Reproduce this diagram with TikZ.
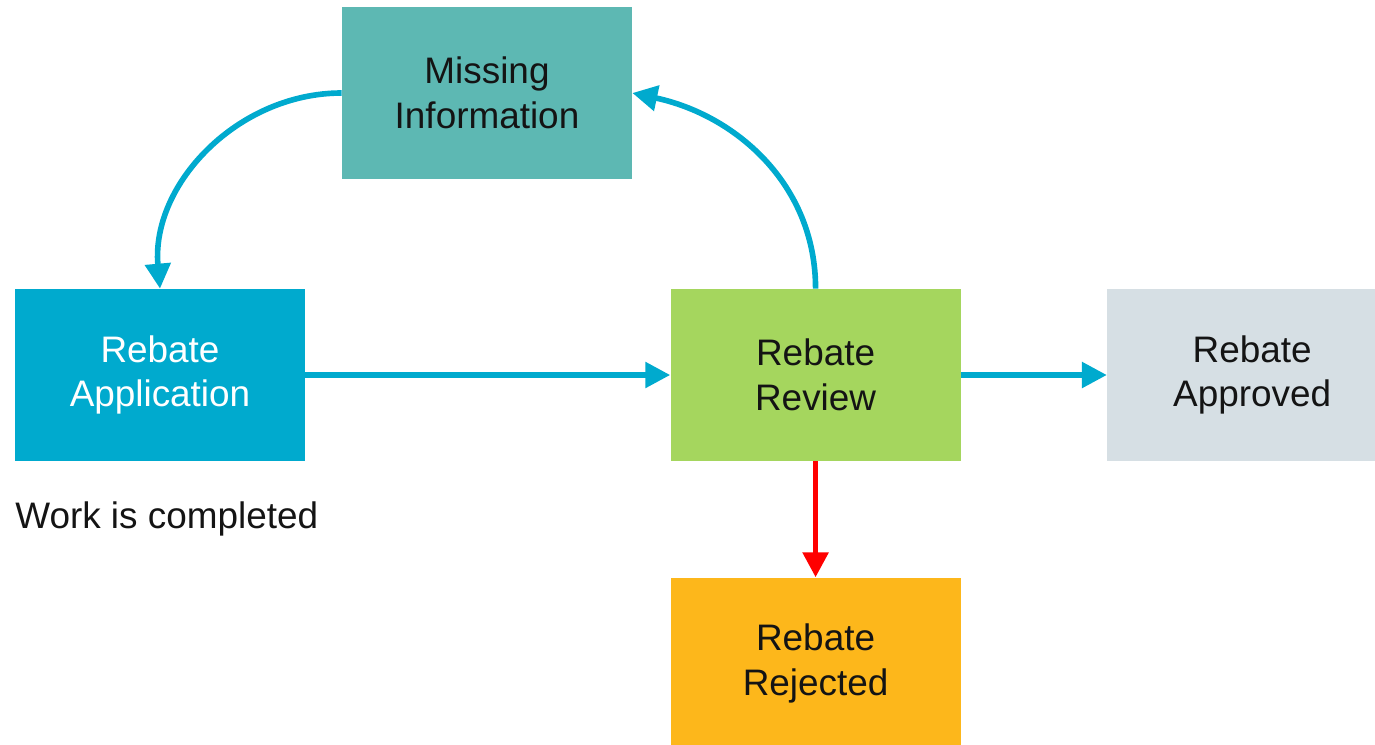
\documentclass[tikz,border=0pt]{standalone}
\usepackage{fontspec}
\setmainfont{Liberation Sans}
\usetikzlibrary{positioning, arrows.meta}

\definecolor{tealbox}{HTML}{5DB8B3}
\definecolor{bluebox}{HTML}{00AACE}
\definecolor{greenbox}{HTML}{A5D65E}
\definecolor{greybox}{HTML}{D6DFE4}
\definecolor{orangebox}{HTML}{FDB71B}
\definecolor{flowline}{HTML}{00AACE}
\definecolor{textdark}{HTML}{141414}

\tikzset{
  stage/.style={rectangle, minimum width=5.8cm, minimum height=3.44cm, inner sep=0pt,
    align=center, font=\fontsize{21}{25.5}\selectfont, text=textdark},
  flow/.style={line width=3.2pt, draw=flowline, -{Triangle[length=0.5cm, width=0.5cm]}},
}

\begin{document}
\begin{tikzpicture}[x=0.02cm, y=-0.02cm]
  \useasboundingbox (0,0) rectangle (1375,744);

  % the five stages
  \node[stage, fill=bluebox, text=white] (app) at (160,375) {Rebate\\Application};
  \node[stage, fill=greenbox, right=7.3cm of app] (review) {Rebate\\Review};
  \node[stage, fill=greybox, right=2.92cm of review] (approved) {Rebate\\Approved};
  \node[stage, fill=orangebox, below=2.32cm of review] (rejected) {Rebate\\Rejected};
  \node[stage, fill=tealbox] (missing) at (487,93) {Missing\\Information};

  \node[anchor=west, inner sep=0pt, font=\fontsize{21}{25.5}\selectfont, text=textdark]
    (done) at (15,519) {Work is completed};

  % transitions
  \draw[flow] (app) -- (review);
  \draw[flow] (review) -- (approved);
  \draw[flow, draw=red] (review.south) -- (rejected.north);
  \draw[flow] (review.north) to[out=90, in=-12] (missing.east);
  \draw[flow] (missing.west) to[out=180, in=95] (app.north);
\end{tikzpicture}
\end{document}
